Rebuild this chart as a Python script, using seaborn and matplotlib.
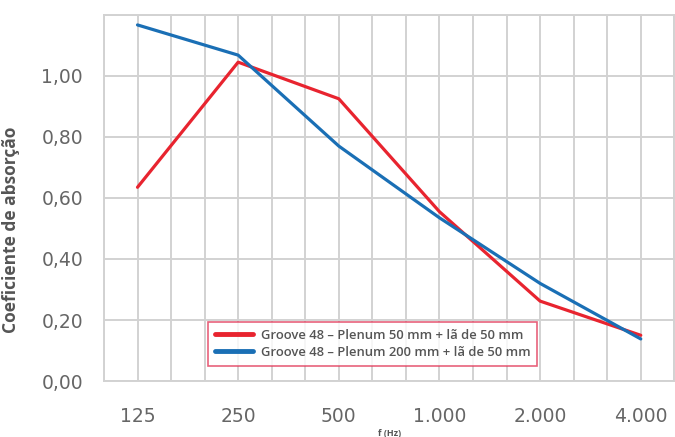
import numpy as np
import pandas as pd
import matplotlib
matplotlib.use("Agg")
import matplotlib.pyplot as plt
import seaborn as sns
from matplotlib.ticker import FixedLocator, FuncFormatter

# Data
freqs = ["125", "250", "500", "1.000", "2.000", "4.000"]
plenum_50 = [0.635, 1.045, 0.925, 0.555, 0.262, 0.150]
plenum_200 = [1.167, 1.068, 0.770, 0.535, 0.320, 0.138]
series_names = ["Groove 48 – Plenum 50 mm + lã de 50 mm",
                "Groove 48 – Plenum 200 mm + lã de 50 mm"]
y_ticks = [0.0, 0.2, 0.4, 0.6, 0.8, 1.0]

df = pd.DataFrame({
    "freq": freqs * 2,
    "alpha": plenum_50 + plenum_200,
    "serie": [series_names[0]] * len(freqs) + [series_names[1]] * len(freqs),
})

sns.set_style("white")
plt.rcParams["font.family"] = ["Open Sans", "DejaVu Sans"]

grid_col = "#d2d2d2"
text_col = "#555555"

fig = plt.figure(figsize=(6.75, 4.37), dpi=100)
ax = fig.add_axes([0.154, 0.128, 0.845, 0.838])

sns.lineplot(data=df, x="freq", y="alpha", hue="serie", sort=False,
             palette=["#e8242f", "#1a6fb5"], linewidth=2.3, ax=ax)

ax.set_xlim(-1 / 3, 5 + 1 / 3)
ax.set_ylim(0, 1.2)

# x: labels at categories, grid every third of a step
ax.xaxis.set_major_locator(FixedLocator(range(len(freqs))))
ax.set_xticklabels(freqs)
ax.xaxis.set_minor_locator(FixedLocator([i / 3 for i in range(-1, 17)]))
ax.yaxis.set_major_locator(FixedLocator(y_ticks + [1.2]))
ax.yaxis.set_major_formatter(FuncFormatter(
    lambda v, p: "" if v > 1.1 else f"{v:.2f}".replace(".", ",")))

ax.grid(True, which="both", axis="x", color=grid_col, linewidth=1.4)
ax.grid(True, which="major", axis="y", color=grid_col, linewidth=1.4)
ax.tick_params(axis="both", which="both", length=7, width=1.2,
               color=grid_col, labelcolor="#666666", labelsize=13.5)
ax.tick_params(axis="x", which="major", pad=12)
ax.tick_params(axis="y", pad=8)
for lab in ax.get_xticklabels() + ax.get_yticklabels():
    lab.set_family(["DejaVu Sans"])

for s in ax.spines.values():
    s.set_color(grid_col)
    s.set_linewidth(1.4)

ax.set_ylabel("Coeficiente de absorção", color=text_col, fontsize=12.5,
              fontweight="bold")
ax.yaxis.set_label_coords(-0.147, 0.413)
ax.set_xlabel("f (Hz)", color=text_col, fontsize=6.5, fontweight="bold",
              labelpad=2)

leg = ax.legend(loc="lower center", bbox_to_anchor=(0.471, 0.041),
                fancybox=False, frameon=True, handlelength=2.9,
                fontsize=9.4, borderpad=0.55, labelspacing=0.3,
                handletextpad=0.6, borderaxespad=0)
leg.get_frame().set_edgecolor("#e23b5a")
leg.get_frame().set_linewidth(1.2)
for t in leg.get_texts():
    t.set_color(text_col)
    t.set_fontweight("semibold")
for line in leg.get_lines():
    line.set_linewidth(3.5)

fig.savefig("out.png", dpi=100)
